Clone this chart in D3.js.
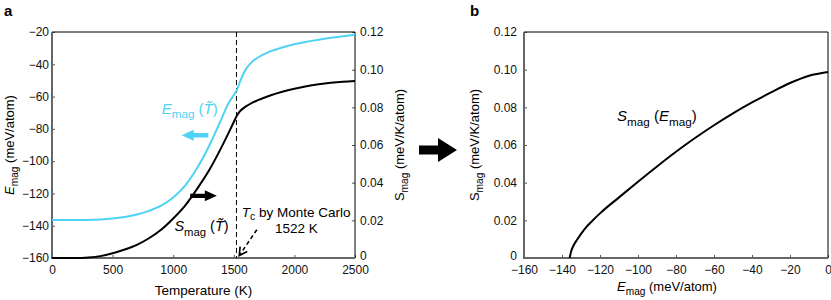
<!DOCTYPE html>
<html>
<head>
<meta charset="utf-8">
<script src="https://cdn.jsdelivr.net/npm/d3@7"></script>
<style>
  body { margin: 0; background: #fff; }
  svg { font-family: "Liberation Sans", Arial, sans-serif; }
  .tick text { font-size: 12px; fill: #111; }
  .tick line { stroke: #555; }
</style>
</head>
<body>
<div id="chart"></div>
<script>
// ---------- data ----------
// panel a: temperature grid (K)
const tempK = [0, 200, 300, 400, 500, 600, 700, 800, 900, 1000, 1100, 1200, 1300, 1400, 1450, 1500, 1522, 1550, 1600, 1650, 1700, 1800, 1900, 2000, 2100, 2200, 2300, 2400, 2500];
// E_mag(T) in meV/atom (cyan, left axis)
const eMagT = [-136.5, -136.5, -136.4, -136.2, -135.6, -134.6, -133.1, -130.8, -127.6, -122.5, -115, -104, -90, -73.5, -65, -59, -56.5, -51, -43, -38.5, -35.8, -32, -29.6, -27.6, -26, -24.8, -23.6, -22.6, -21.7];
// S_mag(T) in meV/K/atom (black, right axis)
const sMagT = [0, 0, 0.0003, 0.001, 0.0025, 0.0045, 0.007, 0.0105, 0.015, 0.021, 0.028, 0.037, 0.047, 0.059, 0.0655, 0.0722, 0.0752, 0.0778, 0.0805, 0.0824, 0.0838, 0.0863, 0.0883, 0.0899, 0.0912, 0.0922, 0.093, 0.0936, 0.094];
const tcMonteCarlo = 1522;

// panel b: S_mag as a function of E_mag
const eMagB = [-136, -135.2, -134, -132, -128, -124, -120, -110, -100, -90, -80, -70, -60, -50, -40, -30, -20, -10, 0];
const sMagB = [0, 0.0035, 0.0065, 0.0098, 0.0155, 0.0198, 0.0237, 0.0322, 0.0405, 0.0486, 0.0564, 0.0637, 0.0705, 0.0768, 0.0826, 0.0879, 0.0929, 0.0968, 0.0988];

// tick labels
const tempTicks = [0, 500, 1000, 1500, 2000, 2500];
const eTicksA = [-160, -140, -120, -100, -80, -60, -40, -20];
const eTicksB = [-160, -140, -120, -100, -80, -60, -40, -20, 0];
const sTicks = [0, 0.02, 0.04, 0.06, 0.08, 0.1, 0.12];

const cyan = "#4fd3f4";
const minus = s => s.replace("-", "\u2212");

// ---------- svg ----------
const svg = d3.select("#chart").append("svg")
    .attr("width", 831).attr("height", 300);

// ---------- scales ----------
const xA = d3.scaleLinear().domain([0, 2500]).range([52, 355]);
const yAL = d3.scaleLinear().domain([-160, -20]).range([258, 32]);
const yAR = d3.scaleLinear().domain([0, 0.12]).range([258, 32]);
const xB = d3.scaleLinear().domain([-160, 0]).range([524, 828]);
const yB = d3.scaleLinear().domain([0, 0.12]).range([258, 32]);

const fmtS = d => d === 0 ? "0" : d3.format(".2f")(d);

// italic (or roman) symbol with roman subscript, e.g. E_mag, then the rest
function symLabel(sel, sym, sub, rest, size, italicSym) {
  sel.append("tspan").text(sym).attr("font-style", italicSym ? "italic" : null);
  sel.append("tspan").text(sub).attr("font-size", size * 0.78).attr("dy", size * 0.3);
  sel.append("tspan").text(rest).attr("dy", -size * 0.3);
  return sel;
}

function frame(g, x, y) {
  const [x0, x1] = x.range();
  const [y0, y1] = y.range();
  g.append("line").attr("x1", x0).attr("x2", x1).attr("y1", y1).attr("y2", y1)
    .attr("stroke", "#000").attr("stroke-width", 1);
  g.append("line").attr("x1", x1).attr("x2", x1).attr("y1", y1).attr("y2", y0)
    .attr("stroke", "#000").attr("stroke-width", 1);
  g.append("line").attr("x1", x0).attr("x2", x0).attr("y1", y1).attr("y2", y0 + 1)
    .attr("stroke", "#666").attr("stroke-width", 2);
  g.append("line").attr("x1", x0 - 1).attr("x2", x1).attr("y1", y0).attr("y2", y0)
    .attr("stroke", "#666").attr("stroke-width", 2);
}

function arrow(g, x0, x1, y, h, color) {
  // block arrow from x0 (tail) to x1 (tip)
  const dir = Math.sign(x1 - x0);
  const headLen = Math.abs(x1 - x0) * 0.45;
  const xh = x1 - dir * headLen;
  const pts = [[x0, y - h * 0.2], [xh, y - h * 0.2], [xh, y - h * 0.5], [x1, y],
               [xh, y + h * 0.5], [xh, y + h * 0.2], [x0, y + h * 0.2]];
  g.append("path").attr("d", "M" + pts.map(p => p.join(",")).join("L") + "Z")
    .attr("fill", color);
}

// ================= panel a =================
const ga = svg.append("g");

ga.append("g").attr("transform", `translate(${xA.range()[0]},0)`)
  .call(d3.axisLeft(yAL).tickValues(eTicksA).tickSizeInner(-3).tickSizeOuter(0).tickPadding(3)
    .tickFormat(d => minus(String(d))))
  .call(g => g.select(".domain").remove());

ga.append("g").attr("transform", `translate(${xA.range()[1]},0)`)
  .call(d3.axisRight(yAR).tickValues(sTicks).tickSizeInner(-3).tickSizeOuter(0).tickPadding(5)
    .tickFormat(fmtS))
  .call(g => g.select(".domain").remove())
  .call(g => g.selectAll(".tick text").filter(d => d === 0).attr("dy", "0.1em"));

ga.append("g").attr("transform", `translate(0,${yAL.range()[0]})`)
  .call(d3.axisBottom(xA).tickValues(tempTicks).tickSizeInner(-3).tickSizeOuter(0).tickPadding(7)
    .tickFormat(d3.format("d")))
  .call(g => g.select(".domain").remove());

frame(ga, xA, yAL);

// Tc dashed line
ga.append("line")
  .attr("x1", xA(tcMonteCarlo)).attr("x2", xA(tcMonteCarlo))
  .attr("y1", yAL.range()[1]).attr("y2", yAL.range()[0])
  .attr("stroke", "#000").attr("stroke-width", 1).attr("stroke-dasharray", "5,3");

const lineE = d3.line().x((d, i) => xA(tempK[i])).y(d => yAL(d)).curve(d3.curveMonotoneX);
const lineS = d3.line().x((d, i) => xA(tempK[i])).y(d => yAR(d)).curve(d3.curveMonotoneX);

ga.append("path").attr("d", lineE(eMagT)).attr("fill", "none")
  .attr("stroke", cyan).attr("stroke-width", 2);
ga.append("path").attr("d", lineS(sMagT)).attr("fill", "none")
  .attr("stroke", "#000").attr("stroke-width", 2);

// annotations
const eLab = ga.append("text").attr("x", xA(905)).attr("y", yAL(-70.5))
  .attr("font-size", 15).attr("fill", cyan);
eLab.append("tspan").text("E").attr("font-style", "italic");
eLab.append("tspan").text("mag").attr("font-size", 15 * 0.78).attr("dy", 15 * 0.3);
eLab.append("tspan").text(" (").attr("dy", -15 * 0.3);
eLab.append("tspan").text("T\u0303").attr("font-style", "italic");
eLab.append("tspan").text(")");

arrow(ga, xA(1290), xA(1070), yAL(-84), 11, cyan);
arrow(ga, xA(1140), xA(1360), yAL(-121.5), 11, "#000");

const sLab = ga.append("text").attr("x", xA(1010)).attr("y", yAL(-143.5))
  .attr("font-size", 14.5).attr("fill", "#000");
sLab.append("tspan").text("S").attr("font-style", "italic");
sLab.append("tspan").text("mag").attr("font-size", 14.5 * 0.78).attr("dy", 14.5 * 0.3);
sLab.append("tspan").text(" (").attr("dy", -14.5 * 0.3);
sLab.append("tspan").text("T\u0303").attr("font-style", "italic");
sLab.append("tspan").text(")");

const tcLab = ga.append("text").attr("x", xA(1565)).attr("y", yAL(-134.5))
  .attr("font-size", 13.5).attr("fill", "#000");
tcLab.append("tspan").text("T").attr("font-style", "italic");
tcLab.append("tspan").text("c").attr("font-size", 10.5).attr("dy", 3);
tcLab.append("tspan").text(" by Monte Carlo").attr("dy", -3);

ga.append("text").attr("x", xA(1840)).attr("y", yAL(-144.5))
  .attr("font-size", 13.5).text("1522 K");

// dashed pointer to Tc
const tip = [xA(1545), yAL(-158.5)];
const tail = [xA(1690), yAL(-142.5)];
ga.append("line").attr("x1", tail[0]).attr("y1", tail[1]).attr("x2", tip[0]).attr("y2", tip[1])
  .attr("stroke", "#000").attr("stroke-width", 1.6).attr("stroke-dasharray", "4,3");
{
  const ang = Math.atan2(tip[1] - tail[1], tip[0] - tail[0]);
  const L = 9, spread = 0.5;
  const p1 = [tip[0] - L * Math.cos(ang - spread), tip[1] - L * Math.sin(ang - spread)];
  const p2 = [tip[0] - L * Math.cos(ang + spread), tip[1] - L * Math.sin(ang + spread)];
  ga.append("path").attr("d", `M${p1}L${tip}L${p2}`).attr("fill", "none")
    .attr("stroke", "#000").attr("stroke-width", 1.6);
}

// axis titles
const yTitleA = ga.append("text").attr("transform", "translate(14,145) rotate(-90)")
  .attr("text-anchor", "middle").attr("font-size", 13);
symLabel(yTitleA, "E", "mag", " (meV/atom)", 13, true);

const yTitleAR = ga.append("text").attr("transform", "translate(404,145) rotate(-90)")
  .attr("text-anchor", "middle").attr("font-size", 13);
symLabel(yTitleAR, "S", "mag", " (meV/K/atom)", 13, false);

ga.append("text").attr("x", d3.mean(xA.range())).attr("y", 295)
  .attr("text-anchor", "middle").attr("font-size", 13.5).text("Temperature (K)");

svg.append("text").attr("x", 4).attr("y", 16).attr("font-size", 15)
  .attr("font-weight", "bold").text("a");

// big arrow between panels
svg.append("path")
  .attr("d", "M419,145.5L438,145.5L438,138L457,150L438,162L438,154.5L419,154.5Z")
  .attr("fill", "#000");

// ================= panel b =================
const gb = svg.append("g");

gb.append("g").attr("transform", `translate(${xB.range()[0]},0)`)
  .call(d3.axisLeft(yB).tickValues(sTicks).tickSizeInner(-3).tickSizeOuter(0).tickPadding(7)
    .tickFormat(fmtS))
  .call(g => g.select(".domain").remove())
  .call(g => g.selectAll(".tick text").filter(d => d === 0).attr("dy", "0.1em"));

gb.append("g").attr("transform", `translate(0,${yB.range()[0]})`)
  .call(d3.axisBottom(xB).tickValues(eTicksB).tickSizeInner(-3).tickSizeOuter(0).tickPadding(7)
    .tickFormat(d => minus(String(d))))
  .call(g => g.select(".domain").remove());

frame(gb, xB, yB);

const lineB = d3.line().x((d, i) => xB(eMagB[i])).y(d => yB(d)).curve(d3.curveMonotoneX);
gb.append("path").attr("d", lineB(sMagB)).attr("fill", "none")
  .attr("stroke", "#000").attr("stroke-width", 2);

const bLab = gb.append("text").attr("x", xB(-111)).attr("y", yB(0.0725))
  .attr("font-size", 15);
bLab.append("tspan").text("S").attr("font-style", "italic");
bLab.append("tspan").text("mag").attr("font-size", 15 * 0.78).attr("dy", 15 * 0.3);
bLab.append("tspan").text(" (").attr("dy", -15 * 0.3);
bLab.append("tspan").text("E").attr("font-style", "italic");
bLab.append("tspan").text("mag").attr("font-size", 15 * 0.78).attr("dy", 15 * 0.3);
bLab.append("tspan").text(")").attr("dy", -15 * 0.3);

const yTitleB = gb.append("text").attr("transform", "translate(479,145) rotate(-90)")
  .attr("text-anchor", "middle").attr("font-size", 13);
symLabel(yTitleB, "S", "mag", " (meV/K/atom)", 13, false);

const xTitleB = gb.append("text").attr("x", 667).attr("y", 291)
  .attr("text-anchor", "middle").attr("font-size", 13);
symLabel(xTitleB, "E", "mag", " (meV/atom)", 13, true);

svg.append("text").attr("x", 470).attr("y", 16).attr("font-size", 15)
  .attr("font-weight", "bold").text("b");
</script>
</body>
</html>
